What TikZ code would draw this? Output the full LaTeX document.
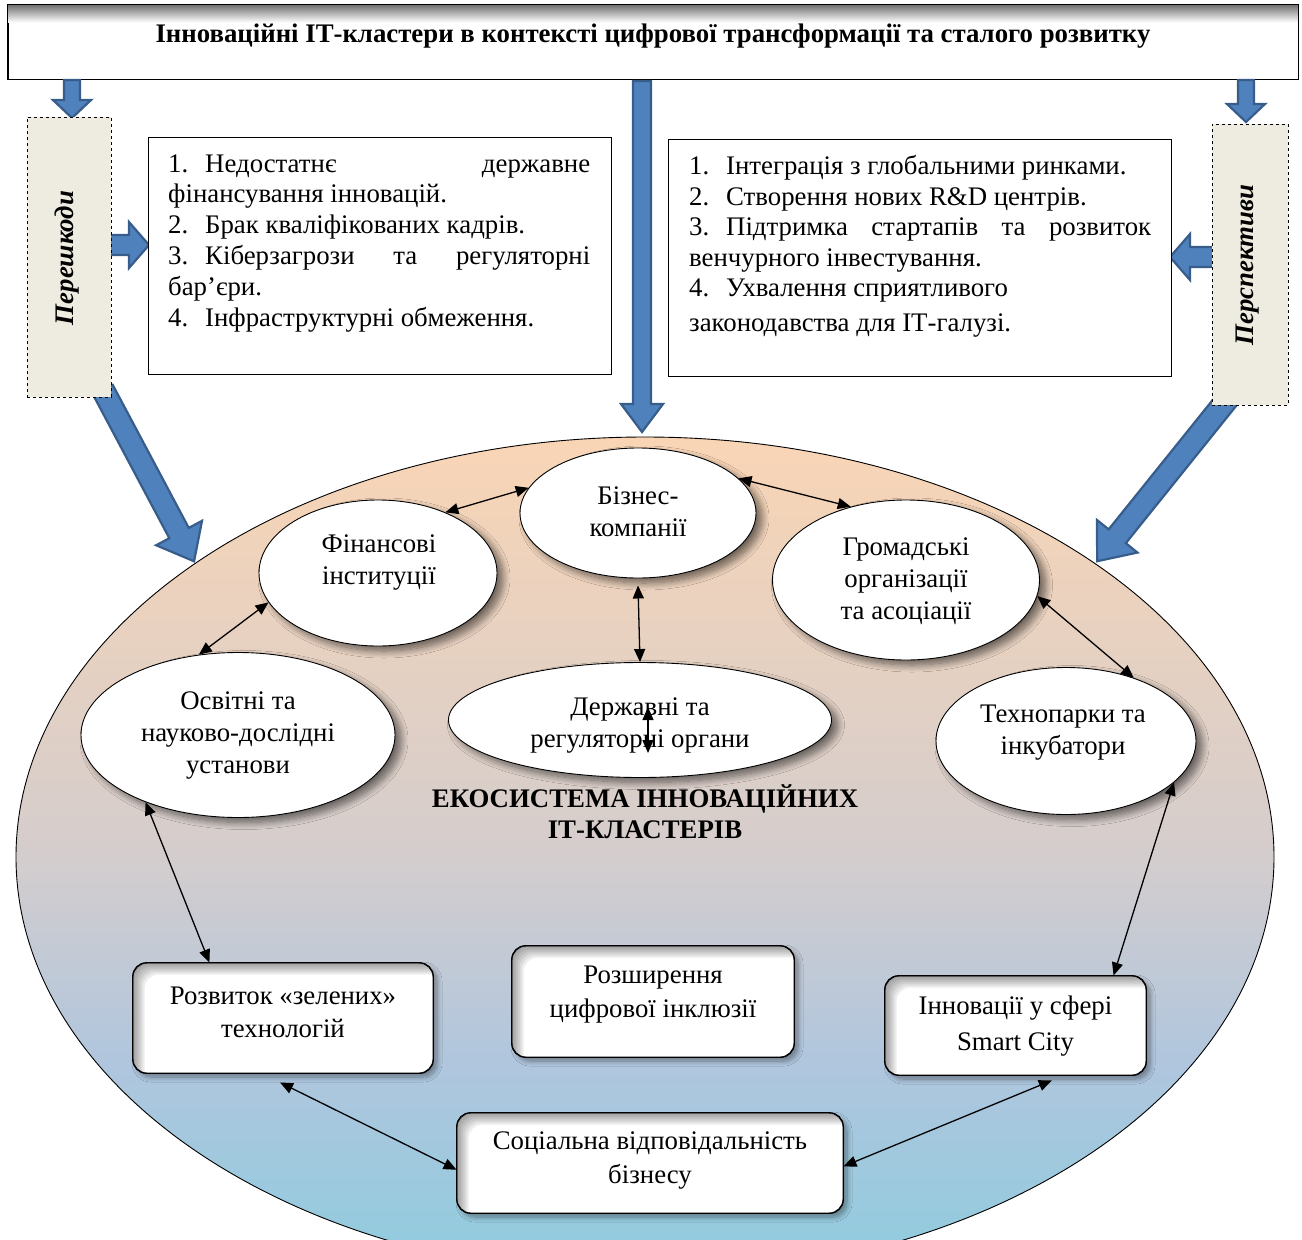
\documentclass[tikz,border=0pt]{standalone}
\usepackage{fontspec}
\setmainfont{Liberation Serif}
\usetikzlibrary{arrows.meta,shapes.geometric,shadows.blur,calc}
\definecolor{arrblue}{HTML}{4F81BD}
\definecolor{arrdark}{HTML}{385D8A}
\definecolor{boxbeige}{HTML}{EEECE1}
\definecolor{ecotop}{HTML}{F9D5B5}
\definecolor{ecomid}{HTML}{D4CDCD}
\definecolor{ecolow}{HTML}{AFC6DE}
\definecolor{ecobot}{HTML}{8ECCDE}
\pgfdeclareverticalshading{ecoshade}{100bp}{color(0bp)=(ecobot); color(25bp)=(ecobot); color(37.5bp)=(ecolow); color(50bp)=(ecomid); color(75bp)=(ecotop); color(100bp)=(ecotop)}
\newcommand\mainfs{\fontsize{26.8}{30.8}\selectfont}
\newcommand\ellfs{\fontsize{26.8}{32}\selectfont}
% x, y, angle, length, shaft width, head width, head length
\newcommand\blockarrow[7]{%
  \begin{scope}[shift={(#1,#2)},rotate=#3]
    \filldraw[fill=arrblue,draw=arrdark,line width=2.2pt,line join=miter]
      (0,{#5/2}) -- ({#4-#7},{#5/2}) -- ({#4-#7},{#6/2}) -- (#4,0)
      -- ({#4-#7},{-#6/2}) -- ({#4-#7},{-#5/2}) -- (0,{-#5/2}) -- cycle;
  \end{scope}}
\newcommand\insetshade[1]{%
  \begin{scope}
    \clip[rounded corners=14pt] (#1.north west) rectangle (#1.south east);
    \foreach \k in {1,...,6}{
      \fill[black,opacity=0.07,even odd rule,rounded corners=14pt]
        ($(#1.north west)+(-30,-30)$) rectangle ($(#1.south east)+(30,30)$)
        ($(#1.north west)+(2*\k,2*\k)$) rectangle ($(#1.south east)+(60,60)$);
    }
  \end{scope}
  \draw[line width=0.9pt,rounded corners=14pt] (#1.north west) rectangle (#1.south east);}
\tikzset{
  ecoell/.style={ellipse,draw=black,line width=0.9pt,fill=white,inner sep=0pt,
    blur shadow={shadow xshift=6pt,shadow yshift=-5pt,shadow blur radius=7pt,shadow blur steps=12,shadow opacity=55}},
  etext/.style={align=center,font=\ellfs,inner sep=0pt},
  rbox/.style={rectangle,rounded corners=14pt,draw=black,line width=0.9pt,fill=white,
    blur shadow={shadow xshift=4pt,shadow yshift=-4pt,shadow blur radius=5pt,shadow blur steps=10,shadow opacity=40}},
  listbox/.style={rectangle,draw=black,line width=0.8pt,fill=white,inner sep=0pt},
  dashbox/.style={rectangle,draw=black,dashed,line width=0.8pt,fill=boxbeige,inner sep=0pt},
  lline/.style={anchor=base west,inner sep=0pt,font=\mainfs},
  biarrow/.style={{Triangle[length=13pt,width=11pt]}-{Triangle[length=13pt,width=11pt]},line width=1.3pt},
}
\begin{document}
\begin{tikzpicture}[x=1pt,y=-1pt]
\useasboundingbox (0,0) rectangle (1302,1240);

% big ecosystem ellipse
\begin{scope}
  \clip (0,0) rectangle (1302,1240);
  \node[ellipse,draw=black,line width=0.9pt,shading=ecoshade,minimum width=1258,minimum height=840,inner sep=0pt] (eco) at (645,857) {};
\end{scope}

% title box
\node[rectangle,draw=black,line width=1pt,fill=white,minimum width=1290,minimum height=74,inner sep=0pt] (titlebox) at (653,42) {};
\shade[top color=black!55,bottom color=white] ($(titlebox.north west)+(0.5,0.5)$) rectangle ($(titlebox.north east)+(-0.5,18)$);
\draw[line width=1pt] (titlebox.north west) rectangle (titlebox.south east);
\node[font=\bfseries\fontsize{26.8}{30}\selectfont,inner sep=0pt] (title) at (653,36) {Інноваційні ІТ-кластери в контексті цифрової трансформації та сталого розвитку};

% blue block arrows
\blockarrow{72}{80}{-90}{38}{16}{38}{18}
\blockarrow{1246}{80}{-90}{42}{16}{38}{18}
\blockarrow{642}{81}{-90}{351}{18}{42}{28}
\blockarrow{103}{390}{-62}{194}{22}{52}{32}
\blockarrow{1230}{396}{-128.8}{212}{22}{52}{32}
\blockarrow{108}{245}{0}{41}{20}{46}{20}
\blockarrow{1214}{257}{180}{44}{20}{46}{20}

% side dashed boxes
\node[dashbox,minimum width=84,minimum height=280] (obst) at (69,257) {};
\node[rotate=90,font=\bfseries\itshape\fontsize{26.8}{30}\selectfont,inner sep=0pt] (obsttxt) at (67,258) {Перешкоди};
\node[dashbox,minimum width=76,minimum height=281] (persp) at (1250,264.5) {};
\node[rotate=90,font=\bfseries\itshape\fontsize{26.8}{30}\selectfont,inner sep=0pt] (persptxt) at (1248,265) {Перспективи};

% list boxes
\node[listbox,minimum width=463,minimum height=237] (obstlist) at (379.5,255.5) {};
\node[lline] (o1) at (168,172) {\makebox[37pt][l]{1.}\hbox to 385pt{Недостатнє\hfill державне}};
\node[lline] (o2) at (168,202.8) {фінансування інновацій.};
\node[lline] (o3) at (168,233.6) {\makebox[37pt][l]{2.}Брак кваліфікованих кадрів.};
\node[lline] (o4) at (168,264.4) {\makebox[37pt][l]{3.}\hbox to 385pt{Кіберзагрози\hfill та\hfill регуляторні}};
\node[lline] (o5) at (168,295.2) {бар’єри.};
\node[lline] (o6) at (168,326) {\makebox[37pt][l]{4.}Інфраструктурні обмеження.};

\node[listbox,minimum width=503,minimum height=237] (persplist) at (919.5,257.5) {};
\node[lline] (p1) at (689,174) {\makebox[37pt][l]{1.}Інтеграція з глобальними ринками.};
\node[lline] (p2) at (689,205) {\makebox[37pt][l]{2.}Створення нових R\&D центрів.};
\node[lline] (p3) at (689,235.5) {\makebox[37pt][l]{3.}\hbox to 425pt{Підтримка\hfill стартапів\hfill та\hfill розвиток}};
\node[lline] (p4) at (689,266) {венчурного інвестування.};
\node[lline] (p5) at (689,296.5) {\makebox[37pt][l]{4.}Ухвалення сприятливого};
\node[lline] (p6) at (689,331) {законодавства для ІТ-галузі.};

% ellipses
\node[ecoell,minimum width=236,minimum height=130] (biz) at (638,513) {};
\node[etext] (biztxt) at (638,512) {Бізнес-\\компанії};
\node[ecoell,minimum width=238,minimum height=146] (fin) at (378,573) {};
\node[etext] (fintxt) at (379,563) {Фінансові\\інституції};
\node[ecoell,minimum width=267,minimum height=160] (civ) at (906,580) {};
\node[etext] (civtxt) at (906,581) {Громадські\\організації\\та асоціації};
\node[ecoell,minimum width=314,minimum height=165] (edu) at (238,735) {};
\node[etext] (edutxt) at (238,736) {Освітні та\\науково-дослідні\\установи};
\node[ecoell,minimum width=383,minimum height=115] (gov) at (640,720) {};
\node[etext] (govtxt) at (640,726) {Державні та\\регуляторні органи};
\node[ecoell,minimum width=260,minimum height=147] (tech) at (1066,741) {};
\node[etext] (techtxt) at (1063,733) {Технопарки та\\інкубатори};

% centre label
\node[align=center,font=\bfseries\fontsize{26.8}{31}\selectfont,inner sep=0pt] (ecotitle) at (645,812) {ЕКОСИСТЕМА ІННОВАЦІЙНИХ\\ІТ-КЛАСТЕРІВ};

% rounded boxes
\node[rbox,minimum width=300,minimum height=110] (green) at (283,1018) {};
\insetshade{green}
\node[etext,font=\fontsize{26.8}{33}\selectfont] (greentxt) at (283,1012.5) {Розвиток «зелених»\\технологій};
\node[rbox,minimum width=282,minimum height=111] (incl) at (653,1001.5) {};
\insetshade{incl}
\node[etext,font=\fontsize{26.8}{34}\selectfont] (incltxt) at (653,995) {Розширення\\цифрової інклюзії};
\node[rbox,minimum width=261,minimum height=99] (smart) at (1015.5,1025.5) {};
\insetshade{smart}
\node[etext,font=\fontsize{26.8}{36}\selectfont] (smarttxt) at (1015.5,1026) {Інновації у сфері\\Smart City};
\node[rbox,minimum width=386,minimum height=100] (soc) at (650,1163) {};
\insetshade{soc}
\node[etext,font=\fontsize{26.8}{34}\selectfont] (soctxt) at (650,1161) {Соціальна відповідальність\\бізнесу};

% small arrow inside the government ellipse
\coordinate (g1) at (648,707);
\coordinate (g2) at (648,753);

% double arrows
\draw[biarrow] (fin.42) -- (biz.167);
\draw[biarrow] (biz.19) -- (civ.127);
\draw[biarrow] ([yshift=-7pt]biz.south) -- (gov.north);
\draw[biarrow] (g1) -- (g2);
\draw[biarrow] (fin.195) -- (edu.116);
\draw[biarrow] (civ.-7) -- (tech.43);
\draw[biarrow] (edu.216) -- (green.143);
\draw[biarrow] (tech.-21) -- (smart.27);
\draw[biarrow] ([yshift=-9pt,xshift=-3pt]green.south) -- (soc.182);
\draw[biarrow] ([yshift=-5pt]smart.-54) -- (soc.-1.5);
\end{tikzpicture}
\end{document}
